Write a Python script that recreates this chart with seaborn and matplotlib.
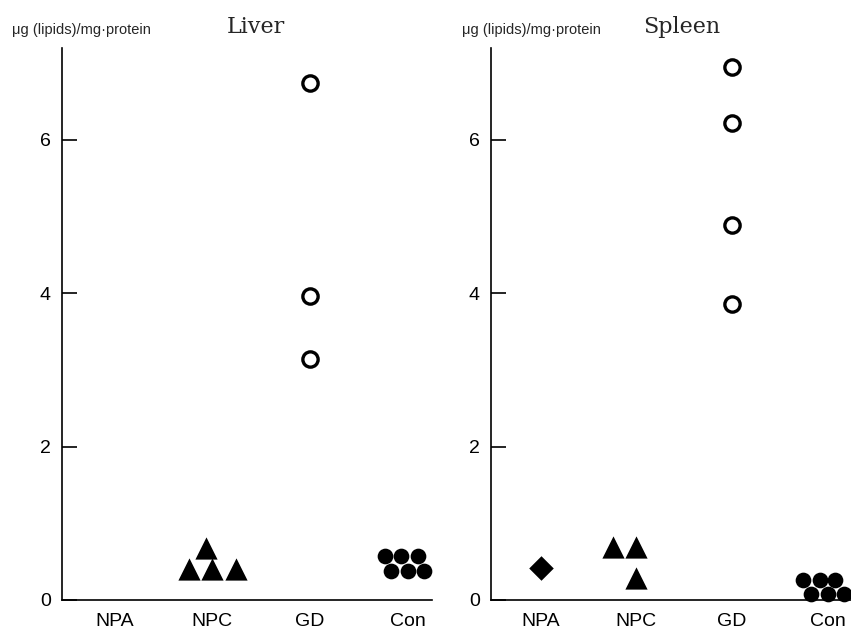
import numpy as np
import pandas as pd
import seaborn as sns
import matplotlib.pyplot as plt

# groups on the x axis
groups = ['NPA', 'NPC', 'GD', 'Con']

# Liver values (ug lipids / mg protein)
liver_npa = []
liver_npc = [0.68, 0.40, 0.40, 0.40]
liver_gd = [6.74, 3.97, 3.14]
liver_con = [0.57, 0.57, 0.57, 0.38, 0.38, 0.38]

# Spleen values
spleen_npa = [0.42]
spleen_npc = [0.69, 0.69, 0.29]
spleen_gd = [6.95, 6.22, 4.89, 3.86]
spleen_con = [0.26, 0.26, 0.26, 0.08, 0.08, 0.08]

yticks = [0, 2, 4, 6]

sns.set_theme(style='ticks')
plt.rcParams['font.family'] = ['Liberation Sans', 'DejaVu Sans']

# marker style per group
styles = {
    'NPA': dict(marker='D', size=12.5, color='black', edgecolor='black', linewidth=0),
    'NPC': dict(marker='^', size=16, color='black', edgecolor='black', linewidth=0),
    'GD': dict(marker='o', size=11, color='white', edgecolor='black', linewidth=2.4),
    'Con': dict(marker='o', size=11.3, color='black', edgecolor='black', linewidth=0),
}

fig = plt.figure(figsize=(8.51, 6.30), dpi=100)
W, H = 851, 630
ax_l = fig.add_axes([62 / W, 30 / H, 370 / W, 552 / H])
ax_r = fig.add_axes([491 / W, 30 / H, 370 / W, 552 / H])


def draw(ax, series, title, title_x, label_x, xlim):
    for g, vals in zip(groups, series):
        if len(vals) == 0:
            continue
        df = pd.DataFrame({'group': g, 'value': vals})
        sns.swarmplot(data=df, x='group', y='value', order=groups, ax=ax,
                      **styles[g])
    for c in ax.collections:
        c.set_clip_on(False)
        c.set_zorder(3)
    ax.set_xlim(*xlim)
    ax.set_ylim(0, 7.2)
    ax.set_yticks(yticks)
    ax.set_xlabel('')
    ax.set_ylabel('')
    ax.tick_params(axis='y', direction='in', length=11, width=1.2,
                   labelsize=14, pad=8, colors='black')
    ax.tick_params(axis='x', length=0, labelsize=14, pad=9, colors='black')
    for s in ['top', 'right']:
        ax.spines[s].set_visible(False)
    for s in ['left', 'bottom']:
        ax.spines[s].set_linewidth(1.2)
        ax.spines[s].set_color('black')
    fig.text(label_x / W, 1 - 30 / H, '\u03bcg (lipids)/mg\u00b7protein',
             fontsize=10.5, ha='left', va='center')
    fig.text(title_x / W, 1 - 27 / H, title, fontsize=16,
             family='DejaVu Serif', ha='center', va='center')


draw(ax_l, [liver_npa, liver_npc, liver_gd, liver_con], 'Liver', 256, 12,
     (-0.54, 3.25))
draw(ax_r, [spleen_npa, spleen_npc, spleen_gd, spleen_con], 'Spleen', 682, 462,
     (-0.52, 3.35))

fig.savefig('out.png', dpi=100)
